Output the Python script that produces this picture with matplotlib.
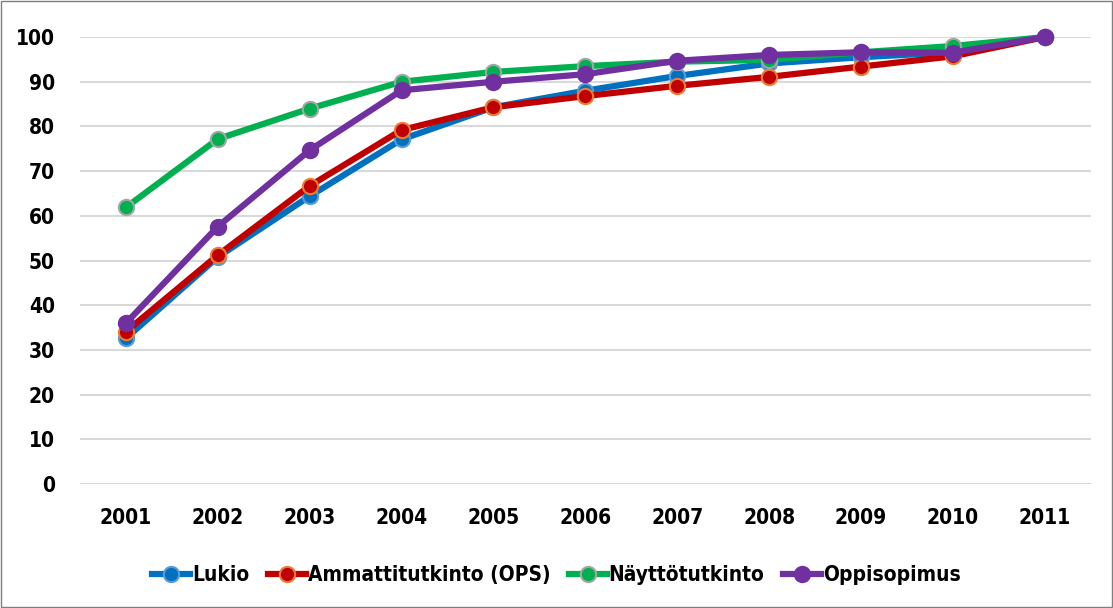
import matplotlib.pyplot as plt

# data
years = ['2001', '2002', '2003', '2004', '2005', '2006', '2007', '2008', '2009', '2010', '2011']
lukio = [32.6, 50.8, 64.4, 77.1, 84.3, 88.0, 91.3, 94.1, 95.5, 96.6, 100]
ammatti = [34.1, 51.2, 66.7, 79.2, 84.3, 86.8, 89.1, 91.1, 93.4, 95.7, 100]
naytto = [61.9, 77.2, 84.0, 90.0, 92.2, 93.5, 94.5, 94.9, 96.6, 98.0, 100]
oppi = [36.0, 57.6, 74.7, 88.1, 90.0, 91.7, 94.7, 96.0, 96.6, 96.5, 100]

names = ['Lukio', 'Ammattitutkinto (OPS)', 'Näyttötutkinto', 'Oppisopimus']
colors = ['#0070C0', '#C00000', '#00B050', '#7030A0']
edges = ['#5B9BD5', '#ED7D31', '#A5A5A5', '#7030A0']

plt.rcParams['font.family'] = ['DejaVu Sans']
plt.rcParams['font.stretch'] = 'condensed'
plt.rcParams['font.weight'] = 'bold'

fig = plt.figure(figsize=(11.13, 6.08), dpi=100)
ax = fig.add_axes([0.0719, 0.204, 0.908, 0.735])

x = list(range(len(years)))
for vals, name, c, e in zip([lukio, ammatti, naytto, oppi], names, colors, edges):
    ax.plot(x, vals, color=c, lw=4.5, marker='o', ms=11, mfc=c, mec=e, mew=1.5,
            label=name, clip_on=False, zorder=3, solid_joinstyle='round')

ax.set_xlim(-0.5, len(years) - 0.5)
ax.set_ylim(0, 100)
ax.set_yticks(range(0, 101, 10))
ax.set_xticks(x)
ax.set_xticklabels(years)
ax.tick_params(length=0, labelsize=15, colors='black')
ax.tick_params(axis='x', pad=17)
ax.tick_params(axis='y', pad=18)
ax.grid(axis='y', color='#D9D9D9', lw=1.5)
ax.set_axisbelow(True)
for s in ax.spines.values():
    s.set_visible(False)

fig.legend(loc='center', bbox_to_anchor=(0.5, 0.054), ncol=4, frameon=False,
           fontsize=15, handlelength=1.8, columnspacing=0.9, handletextpad=0.1)

fig.patches.append(plt.Rectangle((0.001, 0.001), 0.998, 0.998, transform=fig.transFigure,
                                 fill=False, edgecolor='#7F7F7F', lw=1))

fig.savefig('out.png', dpi=100)
